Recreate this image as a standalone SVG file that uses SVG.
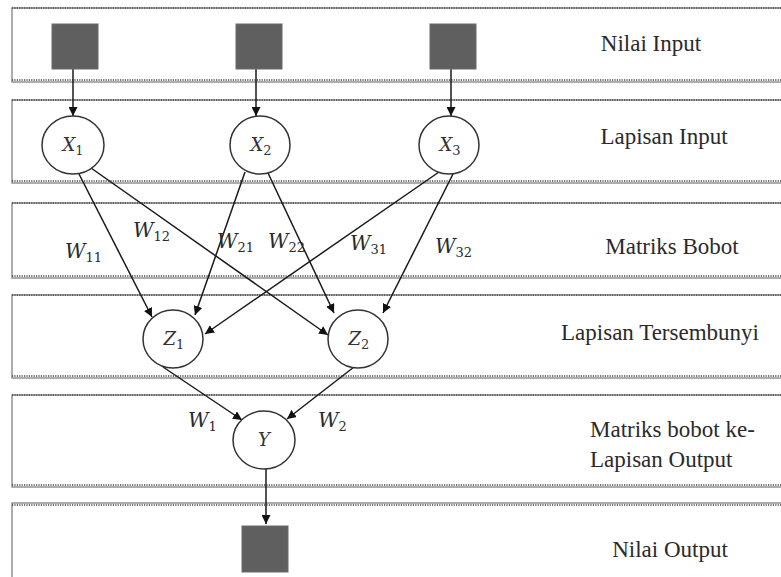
<svg xmlns="http://www.w3.org/2000/svg" width="781" height="577" viewBox="0 0 781 577">
  <style>
    .band-frame { fill: none; stroke: #8a8a8a; stroke-width: 1.4; }
    .band-dots { fill: none; stroke: #444; stroke-width: 1.4; stroke-dasharray: 1.2 1.2; }
    .sq { fill: #5f5f5f; stroke: #6a6a6a; stroke-width: 1; }
    .node { fill: #fff; stroke: #333; stroke-width: 1.5; }
    .edge { stroke: #1a1a1a; stroke-width: 1.5; fill: none; marker-end: url(#arrow); }
    .layer { font-family: "Liberation Serif", "Tinos", "Times New Roman", "DejaVu Serif", serif; font-size: 23px; fill: #2a2a2a; }
    .sym { font-family: "DejaVu Serif", "Liberation Serif", serif; font-style: italic; font-size: 18px; fill: #333; }
    .wt { font-family: "DejaVu Serif", "Liberation Serif", serif; font-style: italic; font-size: 20px; fill: #2a2a2a; }
    .sub { font-style: normal; font-size: 13px; }
  </style>
  <defs>
    <marker id="arrow" viewBox="0 0 10 10" refX="10" refY="5" markerWidth="9" markerHeight="9" markerUnits="userSpaceOnUse" orient="auto">
      <path d="M0,0 L10,5 L0,10 z" fill="#111"/>
    </marker>
  </defs>

  <rect x="0" y="0" width="781" height="577" fill="#fff"/>

  <!-- layer bands -->
  <g id="bands">
    <rect class="band-frame" x="12" y="8" width="790" height="74"/>
    <line class="band-dots" x1="12" y1="8" x2="781" y2="8"/>
    <line class="band-dots" x1="12" y1="80" x2="781" y2="80"/>

    <rect class="band-frame" x="12" y="100" width="790" height="83"/>
    <line class="band-dots" x1="12" y1="100" x2="781" y2="100"/>
    <line class="band-dots" x1="12" y1="181" x2="781" y2="181"/>

    <rect class="band-frame" x="12" y="203" width="790" height="75"/>
    <line class="band-dots" x1="12" y1="203" x2="781" y2="203"/>
    <line class="band-dots" x1="12" y1="276" x2="781" y2="276"/>

    <rect class="band-frame" x="12" y="295" width="790" height="83"/>
    <line class="band-dots" x1="12" y1="295" x2="781" y2="295"/>
    <line class="band-dots" x1="12" y1="376" x2="781" y2="376"/>

    <rect class="band-frame" x="12" y="395" width="790" height="92"/>
    <line class="band-dots" x1="12" y1="395" x2="781" y2="395"/>
    <line class="band-dots" x1="12" y1="485" x2="781" y2="485"/>

    <rect class="band-frame" x="12" y="503" width="790" height="90"/>
    <line class="band-dots" x1="12" y1="505" x2="781" y2="505"/>
  </g>

  <!-- layer labels -->
  <g id="layer-labels">
    <text class="layer" x="651" y="51" text-anchor="middle">Nilai Input</text>
    <text class="layer" x="664" y="144" text-anchor="middle">Lapisan Input</text>
    <text class="layer" x="672" y="254" text-anchor="middle">Matriks Bobot</text>
    <text class="layer" x="660" y="340" text-anchor="middle">Lapisan Tersembunyi</text>
    <text class="layer" x="590" y="437">Matriks bobot ke-</text>
    <text class="layer" x="590" y="467">Lapisan Output</text>
    <text class="layer" x="670" y="557" text-anchor="middle">Nilai Output</text>
  </g>

  <!-- connectors -->
  <g id="connectors">
    <line class="edge" x1="73" y1="69" x2="73" y2="116"/>
    <line class="edge" x1="256" y1="69" x2="256" y2="116"/>
    <line class="edge" x1="451" y1="69" x2="451" y2="116"/>

    <line class="edge" x1="79" y1="174" x2="152" y2="317"/>
    <line class="edge" x1="91" y1="168" x2="328" y2="335"/>
    <line class="edge" x1="245" y1="172" x2="195" y2="315"/>
    <line class="edge" x1="268" y1="173" x2="334" y2="313"/>
    <line class="edge" x1="439" y1="172" x2="205" y2="334"/>
    <line class="edge" x1="453" y1="174" x2="383" y2="313"/>

    <line class="edge" x1="163" y1="367" x2="242" y2="420"/>
    <line class="edge" x1="354" y1="367" x2="287" y2="419"/>

    <line class="edge" x1="266" y1="469" x2="266" y2="524"/>
  </g>

  <!-- input values -->
  <g id="in1"><rect class="sq" x="52" y="24" width="46" height="45"/></g>
  <g id="in2"><rect class="sq" x="236" y="24" width="46" height="45"/></g>
  <g id="in3"><rect class="sq" x="430" y="24" width="46" height="45"/></g>

  <!-- input layer -->
  <g id="x1">
    <ellipse class="node" cx="73" cy="145" rx="31" ry="29"/>
    <text class="sym" x="73" y="151" text-anchor="middle">X<tspan class="sub" dy="4">1</tspan></text>
  </g>
  <g id="x2">
    <ellipse class="node" cx="260" cy="145" rx="30" ry="29"/>
    <text class="sym" x="261" y="151" text-anchor="middle">X<tspan class="sub" dy="4">2</tspan></text>
  </g>
  <g id="x3">
    <ellipse class="node" cx="449" cy="145" rx="30" ry="29"/>
    <text class="sym" x="450" y="151" text-anchor="middle">X<tspan class="sub" dy="4">3</tspan></text>
  </g>

  <!-- hidden layer -->
  <g id="z1">
    <ellipse class="node" cx="173" cy="339" rx="30" ry="29"/>
    <text class="sym" x="174" y="345" text-anchor="middle">Z<tspan class="sub" dy="4">1</tspan></text>
  </g>
  <g id="z2">
    <ellipse class="node" cx="358" cy="339" rx="30" ry="29"/>
    <text class="sym" x="359" y="345" text-anchor="middle">Z<tspan class="sub" dy="4">2</tspan></text>
  </g>

  <!-- output layer -->
  <g id="y">
    <ellipse class="node" cx="264" cy="440" rx="31" ry="29"/>
    <text class="sym" x="264" y="446" text-anchor="middle">Y</text>
  </g>

  <!-- output value -->
  <g id="out"><rect class="sq" x="242" y="526" width="46" height="46"/></g>

  <!-- weight labels -->
  <g id="weights">
    <text class="wt" x="65" y="258">W<tspan class="sub" dy="4">11</tspan></text>
    <text class="wt" x="133" y="237">W<tspan class="sub" dy="4">12</tspan></text>
    <text class="wt" x="217" y="248">W<tspan class="sub" dy="4">21</tspan></text>
    <text class="wt" x="268" y="248">W<tspan class="sub" dy="4">22</tspan></text>
    <text class="wt" x="350" y="250">W<tspan class="sub" dy="4">31</tspan></text>
    <text class="wt" x="435" y="253">W<tspan class="sub" dy="4">32</tspan></text>
    <text class="wt" x="188" y="427">W<tspan class="sub" dy="4">1</tspan></text>
    <text class="wt" x="318" y="427">W<tspan class="sub" dy="4">2</tspan></text>
  </g>
</svg>
